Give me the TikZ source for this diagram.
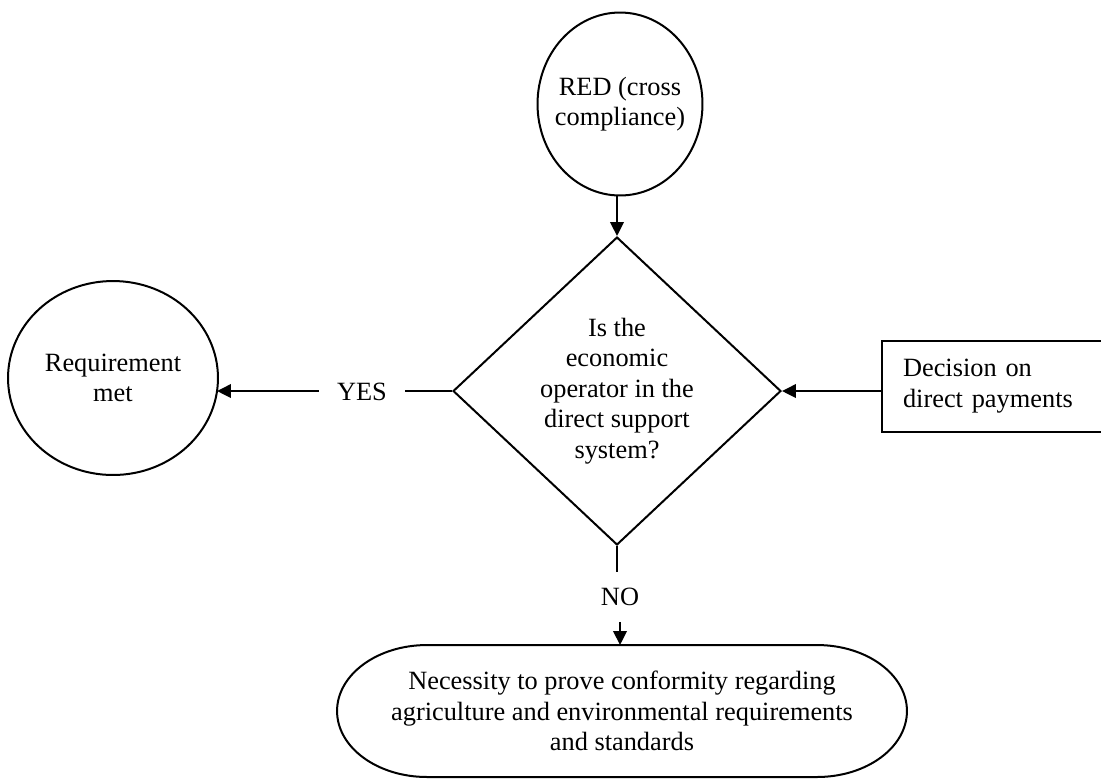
\documentclass[tikz,border=0pt]{standalone}
\usepackage{fontspec}
\setmainfont{Liberation Serif}
\usepackage{tikz}
\usetikzlibrary{arrows.meta,shapes.geometric}
\tikzset{
  fc_node/.style = {align=center, inner sep=0pt, text centered,
    font=\fontsize{15}{17.3}\selectfont, line width=0.04cm},
  fc_circ/.style = {fc_node, ellipse, draw=black, fill=white},% noeud rond
  fc_dec/.style = {fc_node, diamond, draw=black,
    minimum width=6.56cm, minimum height=6.16cm},% decision
  fc_box/.style = {fc_node, rectangle, draw=black, align=left,
    inner xsep=0.42cm, text width=3.72cm, minimum height=1.82cm},% boite
  fc_term/.style = {fc_node, rectangle, outer sep=0pt,
    minimum width=11.4cm, minimum height=2.64cm},% terminal
  fc_lbl/.style = {fc_node, inner xsep=0.35cm, inner ysep=0.3cm},% YES / NO
  fc_arr/.style = {line width=0.04cm, -{Triangle[length=0.28cm,width=0.27cm]}},
  fc_line/.style = {line width=0.04cm}
}
\begin{document}
\begin{tikzpicture} [x=0.02cm, y=-0.02cm]
	\useasboundingbox (0,0) rectangle (1101,779);
	\node [fc_circ, inner xsep=-0.15cm, minimum width=3.3cm, minimum height=3.66cm] (red) at (620,104) {RED (cross\\compliance)};
	\node [fc_dec] (dec) at (617,391) {Is the\\economic\\operator in the\\direct support\\system?};
	\node [fc_circ, minimum width=4.2cm, minimum height=3.88cm] (req) at (113,378) {Requirement\\met};
	\node [fc_box] (dp) at (996,386) {Decision on\\direct payments};
	\node [fc_lbl] (yes) at (362,392) {YES};
	\node [fc_lbl] (no) at (620,597) {NO};
	\node [fc_term] (nec) at (622,711) {Necessity to prove conformity regarding\\agriculture and environmental requirements\\and standards};
	\draw [fc_line] ([xshift=1.8cm]nec.north west) -- ([xshift=-1.8cm]nec.north east)
	  arc[start angle=90, end angle=-90, x radius=1.8cm, y radius=1.32cm]
	  -- ([xshift=1.8cm]nec.south west)
	  arc[start angle=270, end angle=90, x radius=1.8cm, y radius=1.32cm] -- cycle;
	% connectors
	\draw [fc_arr] (dec.north |- red.south) -- (dec.north);
	\draw [fc_line] (dec.west) -- (yes.east |- dec.west);
	\draw [fc_arr] (yes.west |- dec.west) -- ([xshift=-0.04cm]req.east |- dec.west);
	\draw [fc_arr] (dp.west |- dec.east) -- (dec.east);
	\draw [fc_line] (dec.south) -- (dec.south |- no.north);
	\draw [fc_arr] (no.south) -- (no.south |- nec.north);
\end{tikzpicture}
\end{document}
